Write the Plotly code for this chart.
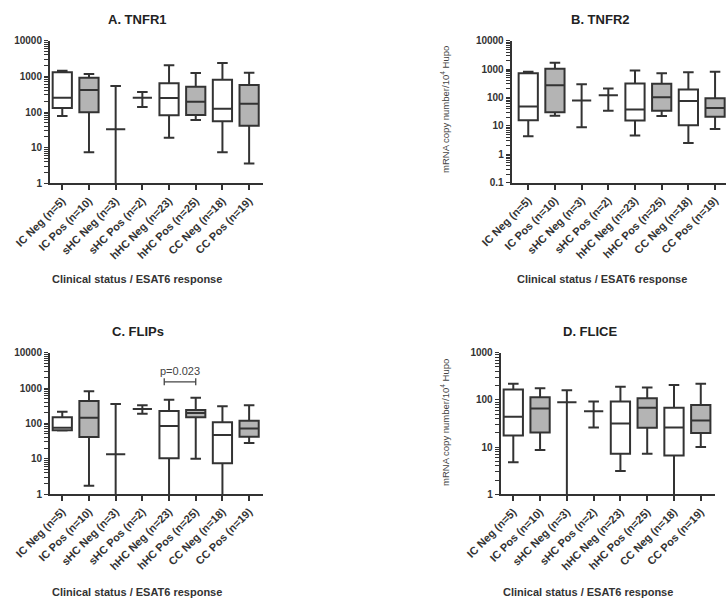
import numpy as np
import plotly.graph_objects as go

categories = ["IC Neg (n=5)", "IC Pos (n=10)", "sHC Neg (n=3)", "sHC Pos (n=2)",
              "hHC Neg (n=23)", "hHC Pos (n=25)", "CC Neg (n=18)", "CC Pos (n=19)"]
esat6_pos = [False, True, False, True, False, True, False, True]

# A. TNFR1
tnfr1_max = [1445, 1170, 535, 363, 2040, 1240, 2360, 1260]
tnfr1_q3 = [1300, 920, 33, 252, 636, 513, 806, 570]
tnfr1_med = [252, 415, 33, 252, 246, 195, 124, 171]
tnfr1_q1 = [130, 98, 33, 252, 81, 82, 55, 41]
tnfr1_min = [77, 7.4, 0.5, 138, 19, 60, 7.4, 3.6]

# B. TNFR2
tnfr2_max = [805, 1670, 295, 208, 900, 720, 780, 805]
tnfr2_q3 = [720, 1030, 78, 121, 310, 303, 192, 95]
tnfr2_med = [48, 272, 78, 121, 38, 102, 76, 43]
tnfr2_q1 = [15.8, 30, 78, 121, 15.4, 34, 10.6, 21]
tnfr2_min = [4.3, 23, 8.9, 34, 4.6, 22.5, 2.5, 7.8]

# C. FLIPs
flips_max = [214, 805, 352, 324, 468, 534, 303, 324]
flips_q3 = [148, 430, 13.3, 256, 224, 238, 107, 119]
flips_med = [75, 145, 13.3, 256, 84, 196, 47, 72]
flips_q1 = [64, 41, 13.3, 256, 10.2, 148, 7.4, 42]
flips_min = [63, 1.72, 0.5, 187, 0.5, 10, 0.5, 28]

# D. FLICE
flice_max = [221, 177, 160, 92, 191, 182, 208, 221]
flice_q3 = [166, 114, 89, 57.5, 92, 108, 68, 78]
flice_med = [44, 66, 89, 57.5, 31.6, 68, 26, 36.6]
flice_q1 = [17.7, 20.4, 89, 57.5, 7.2, 25.6, 6.6, 19.8]
flice_min = [4.8, 8.7, 0.5, 26, 3.1, 7.2, 0.5, 10]

# significance annotation (panel C)
p_pair = ("hHC Neg (n=23)", "hHC Pos (n=25)")
p_level = 1500
p_text = "p=0.023"

panel_titles = ["A. TNFR1", "B. TNFR2", "C. FLIPs", "D. FLICE"]
x_title = "Clinical status / ESAT6 response"
y_title = "mRNA copy number/10<sup>4</sup> Hupo"

W, H = 726, 612
LINE = "#333333"
GREY = "#b4b4b4"
FONT = "Liberation Sans, Arial, sans-serif"

panels = [
    dict(data=(tnfr1_min, tnfr1_q1, tnfr1_med, tnfr1_q3, tnfr1_max), ax="", px=(50, 263), py=(40.7, 183.3),
         xr=[-0.46, 7.52], yr=[0, 4], title_xy=(137, 19), xt_xy=(137, 279), ytitle=None),
    dict(data=(tnfr2_min, tnfr2_q1, tnfr2_med, tnfr2_q3, tnfr2_max), ax="2", px=(511.7, 726), py=(40.7, 182.7),
         xr=[-0.62, 7.41], yr=[-1, 4], title_xy=(600, 19), xt_xy=(602, 279), ytitle=(445, 110)),
    dict(data=(flips_min, flips_q1, flips_med, flips_q3, flips_max), ax="3", px=(50, 263), py=(352.7, 494),
         xr=[-0.46, 7.52], yr=[0, 4], title_xy=(138, 331), xt_xy=(137, 592), ytitle=None),
    dict(data=(flice_min, flice_q1, flice_med, flice_q3, flice_max), ax="4", px=(500.7, 714.7), py=(352.7, 494.3),
         xr=[-0.47, 7.52], yr=[0, 3], title_xy=(590, 331), xt_xy=(588, 592), ytitle=(445, 423)),
]

fig = go.Figure()
annotations = []
shapes = []
idx = list(range(len(categories)))

for k, p in enumerate(panels):
    mn, q1, md, q3, mx = p["data"]
    for pos_flag, fill in ((False, "white"), (True, GREY)):
        sel = [i for i in idx if esat6_pos[i] == pos_flag]
        fig.add_trace(go.Box(
            x=sel,
            q1=[q1[i] for i in sel], median=[md[i] for i in sel], q3=[q3[i] for i in sel],
            lowerfence=[mn[i] for i in sel], upperfence=[mx[i] for i in sel],
            width=0.72, whiskerwidth=0.55, fillcolor=fill,
            line=dict(color=LINE, width=2), boxpoints=False,
            xaxis="x" + p["ax"], yaxis="y" + p["ax"], showlegend=False, hoverinfo="skip",
        ))
    lo, hi = p["yr"]
    ydom = [1 - p["py"][1] / H, 1 - p["py"][0] / H]
    # major decades carry labels, intermediate log positions carry blank labels (minor marks)
    tv, tt = [], []
    for e in range(lo, hi + 1):
        tv.append(10.0 ** e)
        tt.append("%g" % (10.0 ** e))
        if e < hi:
            for m in range(2, 10):
                tv.append(m * 10.0 ** e)
                tt.append("")
    xa = dict(domain=[p["px"][0] / W, p["px"][1] / W], range=p["xr"], tickmode="array",
              tickvals=idx, ticktext=categories, tickangle=-45, automargin=False,
              tickfont=dict(family=FONT, size=11, color=LINE, weight="bold"),
              showline=True, linecolor=LINE, linewidth=2, ticks="outside", ticklen=5,
              tickwidth=1.5, tickcolor=LINE, showgrid=False, zeroline=False,
              anchor="y" + p["ax"])
    ya = dict(domain=ydom, type="log", range=[lo, hi],
              tickmode="array", tickvals=tv, ticktext=tt, automargin=False,
              tickfont=dict(family=FONT, size=10, color=LINE, weight="bold"),
              showline=True, linecolor=LINE, linewidth=2, ticks="outside", ticklen=4,
              tickwidth=1.3, tickcolor=LINE, showgrid=False, zeroline=False,
              anchor="x" + p["ax"])
    fig.update_layout(**{"xaxis" + p["ax"]: xa, "yaxis" + p["ax"]: ya})
    annotations.append(dict(text="<b>%s</b>" % panel_titles[k], x=p["title_xy"][0] / W,
                            y=1 - p["title_xy"][1] / H, xref="paper", yref="paper",
                            showarrow=False, xanchor="center", yanchor="middle",
                            font=dict(family=FONT, size=13, color="#222222")))
    annotations.append(dict(text="<b>%s</b>" % x_title, x=p["xt_xy"][0] / W,
                            y=1 - p["xt_xy"][1] / H, xref="paper", yref="paper",
                            showarrow=False, xanchor="center", yanchor="middle",
                            font=dict(family=FONT, size=11, color=LINE)))
    if p["ytitle"]:
        annotations.append(dict(text=y_title, x=p["ytitle"][0] / W, y=1 - p["ytitle"][1] / H,
                                xref="paper", yref="paper", showarrow=False, textangle=-90,
                                xanchor="center", yanchor="middle",
                                font=dict(family=FONT, size=9.5, color="#444444")))

# significance bracket on panel C
i0 = categories.index(p_pair[0]) - 0.18
i1 = categories.index(p_pair[1])
half = 10 ** 0.1
br = dict(xref="x3", yref="y3", type="line", line=dict(color="#444444", width=1.3))
shapes.append(dict(br, x0=i0, x1=i1, y0=p_level, y1=p_level))
shapes.append(dict(br, x0=i0, x1=i0, y0=p_level / half, y1=p_level * half))
shapes.append(dict(br, x0=i1, x1=i1, y0=p_level / half, y1=p_level * half))
annotations.append(dict(text=p_text, x=(i0 + i1) / 2, y=np.log10(p_level), xref="x3", yref="y3",
                        showarrow=False, xanchor="center", yanchor="bottom", yshift=3,
                        font=dict(family=FONT, size=11, color="#444444")))

fig.update_layout(width=W, height=H, margin=dict(l=0, r=0, t=0, b=0, autoexpand=False),
                  paper_bgcolor="white", plot_bgcolor="white",
                  annotations=annotations, shapes=shapes, showlegend=False,
                  hovermode=False)

fig.write_html("out.html")
